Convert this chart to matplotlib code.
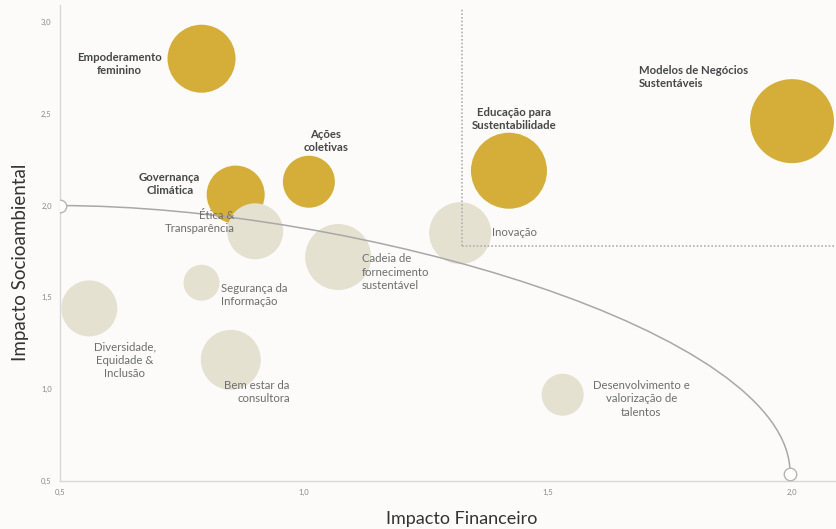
import matplotlib
matplotlib.use("Agg")
import matplotlib.pyplot as plt
from matplotlib.path import Path
from matplotlib.patches import PathPatch

plt.rcParams['font.family'] = ['Lato', 'DejaVu Sans']

# ---- data ----
names = ["Empoderamento\nfeminino", "Governança\nClimática", "Ações\ncoletivas",
         "Educação para\nSustentabilidade", "Modelos de Negócios\nSustentáveis",
         "Ética &\nTransparência", "Cadeia de\nfornecimento\nsustentável", "Inovação",
         "Segurança da\nInformação", "Diversidade,\nEquidade &\nInclusão",
         "Bem estar da\nconsultora", "Desenvolvimento e\nvalorização de\ntalentos"]
fin = [0.79, 0.86, 1.01, 1.42, 2.00, 0.90, 1.07, 1.32, 0.79, 0.56, 0.85, 1.53]
soc = [2.80, 2.06, 2.13, 2.19, 2.46, 1.86, 1.72, 1.85, 1.58, 1.44, 1.16, 0.97]
size = [34, 29, 26, 38, 42, 28, 33, 31, 18, 28, 30, 21]
priority = [True, True, True, True, True, False, False, False, False, False, False, False]

# label anchors (data coords) and alignment
lab_x = [0.621, 0.725, 1.045, 1.430, 1.686, 0.857, 1.119, 1.385, 0.830, 0.633, 0.971, 1.691]
lab_y = [2.771, 2.118, 2.352, 2.472, 2.700, 1.911, 1.638, 1.856, 1.513, 1.159, 0.985, 0.947]
lab_ha = ['center', 'center', 'center', 'center', 'left', 'right', 'left', 'left',
          'left', 'center', 'right', 'center']

# frontier curve: cubic Bezier (start, control 1, control 2, end)
curve_x = [0.50, 1.10, 2.00, 1.996]
curve_y = [2.00, 2.00, 1.32, 0.538]

quad_x = 1.324
quad_y = 1.78
quad_top = 3.075

xticks = [0.5, 1.0, 1.5, 2.0]
yticks = [0.5, 1.0, 1.5, 2.0, 2.5, 3.0]

gold = '#D5AE3A'
beige = '#E4E1D1'
bg = '#FCFBFA'

fig = plt.figure(figsize=(8.37, 5.29), dpi=100, facecolor=bg)
ax = fig.add_axes([60/837, 48/529, 777/837, 476/529], facecolor=bg)
ax.set_xlim(0.5, 0.5 + 777/488)
ax.set_ylim(0.5, 0.5 + 476/183.6)

s = [(2*r*0.72)**2 for r in size]
order_gold = [i for i in range(len(names)) if priority[i]]
order_beige = [i for i in range(len(names)) if not priority[i]]
ax.scatter([fin[i] for i in order_gold], [soc[i] for i in order_gold],
           s=[s[i] for i in order_gold], c=gold, edgecolors='none', zorder=2)
ax.scatter([fin[i] for i in order_beige], [soc[i] for i in order_beige],
           s=[s[i] for i in order_beige], c=beige, edgecolors='none', zorder=3)

path = Path(list(zip(curve_x, curve_y)), [Path.MOVETO, Path.CURVE4, Path.CURVE4, Path.CURVE4])
ax.add_patch(PathPatch(path, facecolor='none', edgecolor='#A8A8A8', lw=1.1, zorder=4))
ax.plot([curve_x[0], curve_x[-1]], [curve_y[0], curve_y[-1]], 'o', ms=9,
        mfc='white', mec='#B5B5B5', mew=1.0, zorder=5, linestyle='none')

ax.plot([quad_x, quad_x], [quad_y, quad_top], linestyle=(0, (1, 1.2)), color='#B0B0B0', lw=1.2, zorder=4)
ax.plot([quad_x, 2.2], [quad_y, quad_y], linestyle=(0, (1, 1.2)), color='#B0B0B0', lw=1.2, zorder=4)

for i in range(len(names)):
    if priority[i]:
        ax.text(lab_x[i], lab_y[i], names[i], ha=lab_ha[i], va='center', fontsize=8.2,
                fontweight='bold', color='#474747', linespacing=1.25, zorder=6)
    else:
        ax.text(lab_x[i], lab_y[i], names[i], ha=lab_ha[i], va='center', fontsize=8.2,
                color='#6E6E6E', linespacing=1.25, zorder=6)

ax.set_xticks(xticks)
ax.set_yticks(yticks)
ax.set_xticklabels([f"{v:.1f}".replace('.', ',') for v in xticks])
ax.set_yticklabels([f"{v:.1f}".replace('.', ',') for v in yticks])
ax.tick_params(length=0, labelsize=5.5, labelcolor='#8A8A8A', pad=6)
for sp in ['top', 'right']:
    ax.spines[sp].set_visible(False)
for sp in ['left', 'bottom']:
    ax.spines[sp].set_color('#D8D8D8')
    ax.spines[sp].set_linewidth(1.0)

fig.text(462/837, 1 - 519/529, "Impacto Financeiro", fontsize=13, color='#333333',
         ha='center', va='center')
fig.text(21/837, 1 - 262/529, "Impacto Socioambiental", fontsize=13.5, color='#333333',
         ha='center', va='center', rotation=90)

fig.savefig("out.png", dpi=100, facecolor=bg)
